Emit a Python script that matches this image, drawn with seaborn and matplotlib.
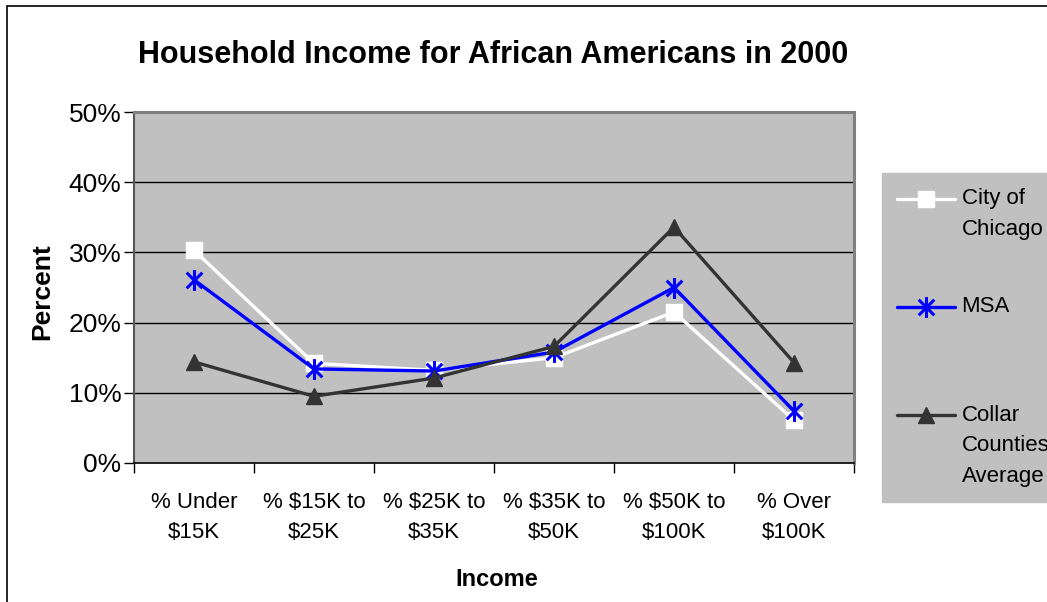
import numpy as np
import pandas as pd
import matplotlib
matplotlib.use("Agg")
import matplotlib.pyplot as plt
import seaborn as sns
from matplotlib.path import Path
from matplotlib.patches import Rectangle
from matplotlib.legend_handler import HandlerLine2D
from matplotlib.ticker import FixedLocator, PercentFormatter

categories = ["% Under\n$15K", "% $15K to\n$25K", "% $25K to\n$35K",
              "% $35K to\n$50K", "% $50K to\n$100K", "% Over\n$100K"]
chicago = [30.3, 14.2, 13.2, 15.0, 21.5, 6.1]
msa = [26.1, 13.4, 13.1, 15.8, 25.0, 7.4]
collar = [14.4, 9.5, 12.1, 16.6, 33.6, 14.3]
series_names = ["City of\nChicago", "MSA", "Collar\nCounties\nAverage"]
legend_labels = ["City of\nChicago", "MSA\n", "Collar\nCounties\nAverage"]
yticks = [0, 10, 20, 30, 40, 50]

sns.set_theme(style="white")
plt.rcParams['font.family'] = ['Liberation Sans', 'DejaVu Sans']
plt.rcParams['text.parse_math'] = False
plt.rcParams['text.color'] = 'black'
plt.rcParams['xtick.labelcolor'] = 'black'
plt.rcParams['ytick.labelcolor'] = 'black'
plt.rcParams['axes.labelcolor'] = 'black'

df = pd.DataFrame({
    "Income": categories * 3,
    "Percent": chicago + msa + collar,
    "Series": [series_names[0]] * 6 + [series_names[1]] * 6 + [series_names[2]] * 6,
})

W, H = 1047, 602
fig = plt.figure(figsize=(W / 100, H / 100), dpi=100)
fig.patch.set_facecolor("white")
ax = fig.add_axes([134 / W, 1 - 463 / H, (854 - 134) / W, (463 - 112) / H])
ax.set_facecolor("#C0C0C0")

star = Path([(0, -1), (0, 1), (-0.75, -0.75), (0.75, 0.75), (-0.75, 0.75), (0.75, -0.75)],
            [Path.MOVETO, Path.LINETO, Path.MOVETO, Path.LINETO, Path.MOVETO, Path.LINETO])

styles = {
    series_names[0]: dict(color="white", marker="s", markersize=12, mec="white", mfc="white", mew=1),
    series_names[1]: dict(color="#0000FF", marker=star, markersize=15, mec="#0000FF", mfc="none", mew=2.2),
    series_names[2]: dict(color="#333333", marker="^", markersize=12, mec="#333333", mfc="#333333", mew=1),
}
for i, name in enumerate(series_names):
    sub = df[df["Series"] == name]
    st = styles[name]
    sns.lineplot(data=sub, x="Income", y="Percent", ax=ax, color=st["color"], lw=2.4,
                 marker=st["marker"], markersize=st["markersize"], markeredgecolor=st["mec"],
                 markerfacecolor=st["mfc"], markeredgewidth=st["mew"], label=legend_labels[i],
                 zorder=3 + i, sort=False, errorbar=None)

ax.set_xlim(-0.5, 5.5)
ax.set_ylim(0, 50)
ax.set_yticks(yticks)
ax.yaxis.set_major_formatter(PercentFormatter(decimals=0))
for y in yticks[1:-1]:
    ax.axhline(y, color="black", lw=1, zorder=1)

ax.set_xticks(range(6))
ax.set_xticklabels(categories, fontsize=16, linespacing=1.55)
ax.xaxis.set_minor_locator(FixedLocator(np.arange(-0.5, 6, 1)))
ax.tick_params(axis="x", which="major", length=0, pad=21)
ax.tick_params(axis="x", which="minor", length=7, width=1, color="black", direction="out", bottom=True)
ax.tick_params(axis="y", which="major", length=7, width=1, color="black", direction="out", left=True, labelsize=19, pad=2)

for s in ["top", "right"]:
    ax.spines[s].set_color("#808080")
    ax.spines[s].set_linewidth(2.2)
ax.spines["left"].set_color("#555555")
ax.spines["left"].set_linewidth(1.5)
ax.spines["bottom"].set_color("black")
ax.spines["bottom"].set_linewidth(1.2)

ax.set_xlabel("")
ax.set_ylabel("")
fig.text(42 / W, 1 - 292 / H, "Percent", rotation=90, ha="center", va="center",
         fontsize=19, fontweight="bold")
fig.text(497 / W, 1 - 580 / H, "Income", ha="center", va="center",
         fontsize=17, fontweight="bold")
fig.text(493 / W, 1 - 55 / H, "Household Income for African Americans in 2000",
         ha="center", va="center", fontsize=22, fontweight="bold")


class TopHandler(HandlerLine2D):
    def __init__(self, shift=0, **kw):
        super().__init__(**kw)
        self.shift = shift

    def create_artists(self, legend, orig_handle, xdescent, ydescent, width, height, fontsize, trans):
        return super().create_artists(legend, orig_handle, xdescent, ydescent - 2 * self.shift,
                                      width, height, fontsize, trans)


handles, labels = ax.get_legend_handles_labels()
if ax.legend_:
    ax.legend_.remove()
fs = 16
lsp = 1.6
pitch_pt = 31 / (100 / 72)
hmap = {handles[0]: TopHandler(shift=0.5 * pitch_pt),
        handles[1]: TopHandler(shift=0.5 * pitch_pt),
        handles[2]: TopHandler(shift=pitch_pt)}
leg = fig.legend(handles, labels, loc="upper left", bbox_to_anchor=(882 / W, 1 - 173 / H),
                 bbox_transform=fig.transFigure, fontsize=fs, frameon=True, fancybox=False,
                 facecolor="#C0C0C0", edgecolor="#C0C0C0", framealpha=1, borderaxespad=0,
                 handlelength=2.6, handletextpad=0.3, labelspacing=2.55, borderpad=0.68,
                 handler_map=hmap)
for t in leg.get_texts():
    t.set_linespacing(lsp)
    t.set_color("black")

fig.patches.append(Rectangle((7 / W, -0.1), 1.2, 1 - 6 / H + 0.1, transform=fig.transFigure,
                             fill=False, edgecolor="black", lw=1.2, zorder=0))

fig.savefig("out.png", dpi=100)
